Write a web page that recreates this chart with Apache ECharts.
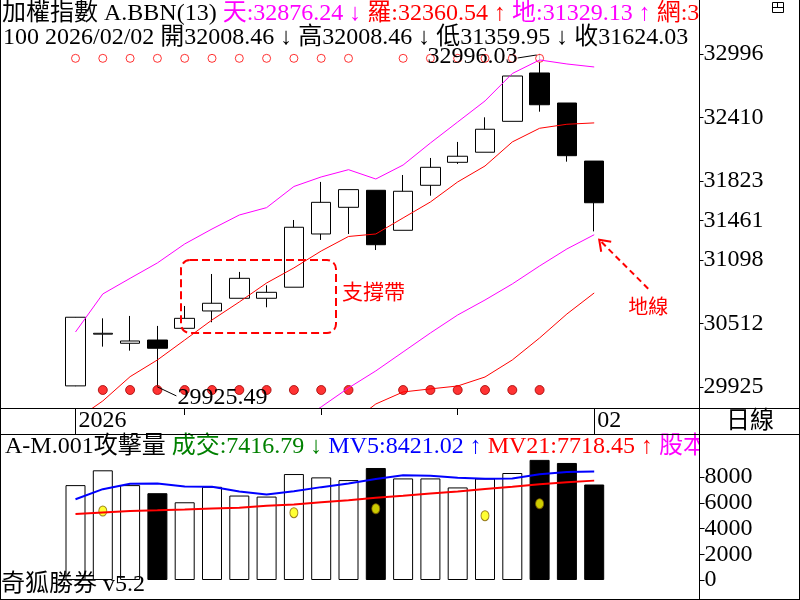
<!DOCTYPE html>
<html><head><meta charset="utf-8">
<script src="https://cdn.jsdelivr.net/npm/echarts@6/dist/echarts.min.js"></script>
<style>html,body{margin:0;padding:0;background:#fff}#c{width:800px;height:600px}</style>
</head><body><div id="c"></div>
<script>
// ---------- data ----------
const dates = ['2026/01/06','2026/01/07','2026/01/08','2026/01/09','2026/01/12','2026/01/13','2026/01/14','2026/01/15','2026/01/16','2026/01/19','2026/01/20','2026/01/21','2026/01/22','2026/01/23','2026/01/26','2026/01/27','2026/01/28','2026/01/29','2026/01/30','2026/02/02'];
const dateLabels = ['2026','','','','','','','','','','','','','','','','','','','02'];
const majorTickIdx = [0, 19];
const minorTickIdx = [4, 9, 14];
const opens  = [29935, 30412, 30328, 30358, 30466, 30626, 30743, 30743, 30845, 31336, 31582, 31739, 31370, 31785, 31997, 32090, 32375, 32821, 32544, 32008.46];
const closes = [30568, 30420, 30349, 30282, 30558, 30697, 30927, 30798, 31398, 31628, 31745, 31237, 31730, 31951, 32053, 32302, 32793, 32528, 32058, 31624.03];
const lows   = [29932, 30297, 30260, 29925.49, 30466, 30522, 30743, 30660, 30845, 31281, 31336, 31188, 31370, 31689, 31982, 32090, 32375, 32464, 32003, 31359.95];
const highs  = [30570, 30558, 30580, 30488, 30672, 30967, 30986, 30863, 31465, 31816, 31745, 31739, 31880, 32037, 32185, 32412, 32793, 32996.03, 32544, 32008.46];
// 天 (upper, magenta), 羅 (middle, red), 地 (lower, magenta), 網 (red)
const bandTian = [30432, 30783, 30927, 31069, 31244, 31382, 31511, 31579, 31774, 31862, 31929, 31843, 31972, 32175, 32369, 32563, 32816, 32941, 32904, 32876.24];
const bandLuo  = [29621, 29796, 30020, 30174, 30358, 30543, 30709, 30884, 31023, 31179, 31313, 31336, 31484, 31631, 31816, 31963, 32185, 32311, 32348, 32360.54];
const bandDi   = [null, null, null, null, null, null, null, null, 29575, 29741, 29916, 30073, 30248, 30423, 30589, 30727, 30875, 31041, 31198, 31329.13];
const bandWang = [null, null, null, null, null, null, null, null, null, null, 29575, 29768, 29879, 29907, 29934, 30017, 30174, 30377, 30598, 30792];
const priceTicks = [29925, 30512, 31098, 31461, 31823, 32410, 32996];
const topSignalIdx = [0,1,2,3,4,5,6,7,8,9,10,12,13,14,15,16,17];
const bottomSignalIdx = [1,2,3,4,5,6,7,8,9,10,12,13,14,15,16,17];
const topSignalLevel = 32956;
const bottomSignalLevel = 29897;
const volumes = [7370, 8520, 7370, 6742, 6037, 7240, 6560, 6480, 8230, 7970, 7760, 8700, 7890, 7890, 7190, 7880, 8310, 9330, 9090, 7416.79];
const mv5  = [6272, 7056, 7474, 7500, 7265, 7240, 6873, 6638, 6900, 7213, 7500, 7840, 8128, 8100, 7945, 7866, 7892, 8210, 8390, 8421.02];
const mv21 = [5120, 5250, 5350, 5410, 5480, 5560, 5620, 5760, 5860, 6040, 6200, 6390, 6540, 6710, 6880, 7060, 7240, 7440, 7590, 7718.45];
const yellowIdx = [1, 8, 11, 15, 17];
const yellowVal = [5359, 5227, 5538, 4994, 5926];
const volTicks = [0, 2000, 4000, 6000, 8000];

// ---------- chart ----------
const FONT = '"Liberation Serif", "Noto Sans CJK TC", serif';
const chart = echarts.init(document.getElementById('c'), null, {width: 800, height: 600});
const candles = opens.map((o, i) => [o, closes[i], lows[i], highs[i]]);
const volData = volumes.map((v, i) => ({
  value: v,
  itemStyle: closes[i] < opens[i] ? {color: '#000', borderColor: '#000', borderWidth: 1}
                                   : {color: '#fff', borderColor: '#000', borderWidth: 1}
}));
const labelStyle = {color: '#000', fontFamily: FONT, fontSize: 24};

const option = {
  animation: false,
  backgroundColor: '#fff',
  grid: [
    {left: 61.85, width: 546, top: 0, height: 408},
    {left: 61.85, width: 546, top: 434, bottom: 20}
  ],
  xAxis: [
    {type: 'category', gridIndex: 0, data: dates, boundaryGap: true, position: 'bottom',
     axisLine: {show: false}, splitLine: {show: false},
     axisTick: {show: true, alignWithLabel: true, length: 26, interval: (i) => majorTickIdx.includes(i), lineStyle: {color: '#000', width: 1}},
     axisLabel: Object.assign({show: true, interval: (i) => dateLabels[i] !== '', formatter: (v, i) => dateLabels[i], align: 'left', verticalAlign: 'middle', margin: 13, padding: [0, 0, 0, 3]}, labelStyle)},
    {type: 'category', gridIndex: 0, data: dates, boundaryGap: true, position: 'bottom',
     axisLine: {show: false}, splitLine: {show: false}, axisLabel: {show: false},
     axisTick: {show: true, alignWithLabel: true, length: 7, interval: (i) => minorTickIdx.includes(i), lineStyle: {color: '#000', width: 1}}},
    {type: 'category', gridIndex: 1, data: dates, boundaryGap: true, show: false}
  ],
  yAxis: [
    {type: 'value', gridIndex: 0, min: 29731, max: 33494, position: 'right', offset: 91.65, scale: true,
     axisLine: {show: false}, splitLine: {show: false},
     axisTick: {show: true, length: 4, customValues: priceTicks, lineStyle: {color: '#000'}},
     axisLabel: Object.assign({show: true, customValues: priceTicks, margin: 4, verticalAlign: 'middle', formatter: (v) => String(Math.round(v))}, labelStyle)},
    {type: 'value', gridIndex: 1, min: 0, max: 11340, position: 'right', offset: 91.65,
     axisLine: {show: false}, splitLine: {show: false},
     axisTick: {show: true, length: 5, customValues: volTicks, lineStyle: {color: '#000'}},
     axisLabel: Object.assign({show: true, customValues: volTicks, margin: 5, verticalAlign: 'middle', formatter: (v) => String(Math.round(v))}, labelStyle)}
  ],
  series: [
    {type: 'candlestick', xAxisIndex: 0, yAxisIndex: 0, data: candles, barWidth: 20,
     itemStyle: {color: '#fff', color0: '#000', borderColor: '#000', borderColor0: '#000', borderWidth: 1}},
    {type: 'line', name: '天', xAxisIndex: 0, yAxisIndex: 0, data: bandTian, symbol: 'none', clip: true, lineStyle: {color: '#ff00ff', width: 1}},
    {type: 'line', name: '羅', xAxisIndex: 0, yAxisIndex: 0, data: bandLuo, symbol: 'none', clip: true, lineStyle: {color: '#ff0000', width: 1}},
    {type: 'line', name: '地', xAxisIndex: 0, yAxisIndex: 0, data: bandDi, symbol: 'none', clip: true, lineStyle: {color: '#ff00ff', width: 1}},
    {type: 'line', name: '網', xAxisIndex: 0, yAxisIndex: 0, data: bandWang, symbol: 'none', clip: true, lineStyle: {color: '#ff0000', width: 1}},
    {type: 'scatter', xAxisIndex: 0, yAxisIndex: 0, data: topSignalIdx.map(i => [i, topSignalLevel]), symbol: 'circle', symbolSize: 8,
     itemStyle: {color: '#fff', borderColor: '#ff0000', borderWidth: 1}},
    {type: 'scatter', xAxisIndex: 0, yAxisIndex: 0, data: bottomSignalIdx.map(i => [i, bottomSignalLevel]), symbol: 'circle', symbolSize: 9,
     itemStyle: {color: '#ff0000', borderColor: '#a00000', borderWidth: 1}},
    {type: 'bar', xAxisIndex: 2, yAxisIndex: 1, data: volData, barWidth: 20},
    {type: 'line', name: 'MV5', xAxisIndex: 2, yAxisIndex: 1, data: mv5, symbol: 'none', lineStyle: {color: '#0000ff', width: 2}},
    {type: 'line', name: 'MV21', xAxisIndex: 2, yAxisIndex: 1, data: mv21, symbol: 'none', lineStyle: {color: '#ff0000', width: 2}},
    {type: 'scatter', xAxisIndex: 2, yAxisIndex: 1, data: yellowIdx.map((i, k) => [i, yellowVal[k]]), symbol: 'circle', symbolSize: [8, 10],
     itemStyle: {color: '#ffff00', borderColor: '#806000', borderWidth: 1}}
  ]
};
chart.setOption(option);

// ---------- frame, headers, annotations ----------
const P = (i, v) => chart.convertToPixel({xAxisIndex: 0, yAxisIndex: 0}, [i, v]);
const line = (x1, y1, x2, y2, extra) => Object.assign({type: 'line', shape: {x1, y1, x2, y2}, style: {stroke: '#000', lineWidth: 1}, z: 200}, extra || {});
const rich = {
  k: {fill: '#000', font: '24px ' + FONT},
  m: {fill: '#ff00ff', font: '24px ' + FONT},
  r: {fill: '#ff0000', font: '24px ' + FONT},
  g: {fill: '#008000', font: '24px ' + FONT},
  b: {fill: '#0000ff', font: '24px ' + FONT}
};
const lowI = lows.indexOf(Math.min(...lows));
const highI = highs.indexOf(Math.max(...highs));
const pLow = P(lowI, lows[lowI]);
const pHigh = P(highI, highs[highI]);
const pDi = P(19, bandDi[19]);

const g = [
  {type: 'text', x: 2, y: 14, z: 150, style: {text: '{k|加權指數 A.BBN(13) }{m|天:32876.24 ↓ }{r|羅:32360.54 ↑ }{m|地:31329.13 ↑ }{r|網:30792.40}', rich, verticalAlign: 'middle', font: '24px ' + FONT}},
  {type: 'text', x: 3, y: 38, z: 150, style: {text: '100 2026/02/02 開32008.46 ↓ 高32008.46 ↓ 低31359.95 ↓ 收31624.03', fill: '#000', verticalAlign: 'middle', font: '24px ' + FONT}},
  {type: 'text', x: 5, y: 447, z: 150, style: {text: '{k|A-M.001攻擊量 }{g|成交:7416.79 ↓ }{b|MV5:8421.02 ↑ }{r|MV21:7718.45 ↑ }{m|股本:12345}', rich, verticalAlign: 'middle', font: '24px ' + FONT}},
  {type: 'text', x: 1, y: 585, z: 150, style: {text: '奇狐勝券 v5.2', fill: '#000', verticalAlign: 'middle', font: '24px ' + FONT}},
  // masks for overflowing header text
  {type: 'rect', z: 160, shape: {x: 700, y: 0, width: 99, height: 30}, style: {fill: '#fff'}},
  {type: 'rect', z: 160, shape: {x: 700, y: 435, width: 99, height: 24}, style: {fill: '#fff'}},
  {type: 'text', x: 750, y: 422, z: 150, style: {text: '日線', fill: '#000', align: 'center', verticalAlign: 'middle', font: '24px ' + FONT}},
  // frame
  line(0.5, 0, 0.5, 600), line(799.5, 0, 799.5, 600), line(0, 599.5, 800, 599.5),
  line(699.5, 0, 699.5, 600), line(0, 408.5, 800, 408.5), line(0, 434.5, 800, 434.5),
  // window icon
  {type: 'rect', z: 200, shape: {x: 772.5, y: 2.5, width: 11, height: 10}, style: {fill: 'none', stroke: '#000', lineWidth: 1}},
  line(772.5, 7.5, 783.5, 7.5), line(777.5, 2.5, 777.5, 7.5),
  // low / high labels
  line(pLow[0], pLow[1], pLow[0] + 19, pLow[1] + 9),
  {type: 'text', x: pLow[0] + 20, y: pLow[1] + 11, z: 150, style: {text: lows[lowI].toFixed(2), fill: '#000', verticalAlign: 'middle', font: '24px ' + FONT}},
  line(pHigh[0] - 3, pHigh[1] + 1, pHigh[0] - 22, pHigh[1] + 4),
  {type: 'text', x: pHigh[0] - 22, y: pHigh[1] + 3, z: 150, style: {text: highs[highI].toFixed(2), fill: '#000', align: 'right', verticalAlign: 'middle', font: '24px ' + FONT}},
  // support zone
  {type: 'rect', z: 120, shape: {x: 181, y: 260, width: 155, height: 73, r: 9}, style: {fill: 'none', stroke: '#ff0000', lineWidth: 2, lineDash: [8, 4]}},
  {type: 'text', x: 342, y: 291, z: 150, style: {text: '支撐帶', fill: '#ff0000', verticalAlign: 'middle', font: '21px "Noto Sans CJK TC"'}},
  // 地線 arrow
  {type: 'line', z: 120, shape: {x1: pDi[0] + 54, y1: pDi[1] + 54, x2: pDi[0] + 7, y2: pDi[1] + 7}, style: {stroke: '#ff0000', lineWidth: 2, lineDash: [6, 4]}},
  {type: 'polyline', z: 120, shape: {points: [[pDi[0] + 7, pDi[1] + 17], [pDi[0] + 5, pDi[1] + 5], [pDi[0] + 17, pDi[1] + 7]]}, style: {stroke: '#ff0000', lineWidth: 2, fill: 'none'}},
  {type: 'text', x: pDi[0] + 54, y: pDi[1] + 72, z: 150, style: {text: '地線', fill: '#ff0000', align: 'center', verticalAlign: 'middle', font: '20px "Noto Sans CJK TC"'}}
];
chart.setOption({graphic: {elements: g}});
</script></body></html>
